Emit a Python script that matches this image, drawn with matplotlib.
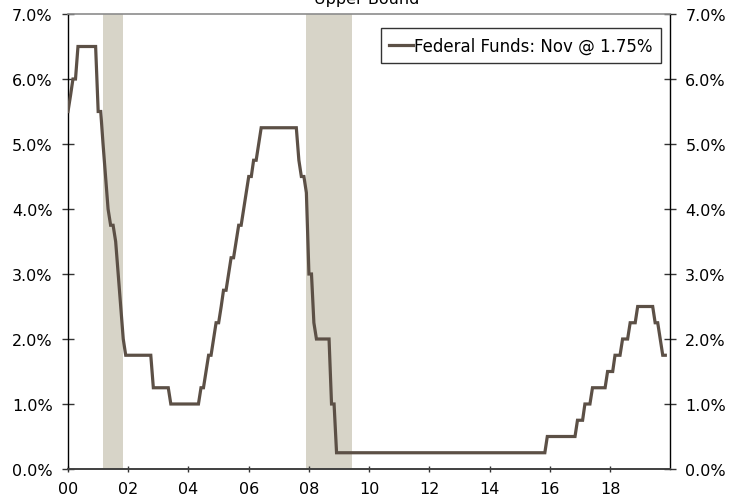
import matplotlib
matplotlib.use('Agg')
import matplotlib.pyplot as plt
import matplotlib.dates as mdates
import pandas as pd

# Federal funds target rate, upper bound, end of month (%)
fed_2000 = [5.5, 5.75, 6.0, 6.0, 6.5, 6.5, 6.5, 6.5, 6.5, 6.5, 6.5, 6.5]
fed_2001 = [5.5, 5.5, 5.0, 4.5, 4.0, 3.75, 3.75, 3.5, 3.0, 2.5, 2.0, 1.75]
fed_2002 = [1.75, 1.75, 1.75, 1.75, 1.75, 1.75, 1.75, 1.75, 1.75, 1.75, 1.25, 1.25]
fed_2003 = [1.25, 1.25, 1.25, 1.25, 1.25, 1.0, 1.0, 1.0, 1.0, 1.0, 1.0, 1.0]
fed_2004 = [1.0, 1.0, 1.0, 1.0, 1.0, 1.25, 1.25, 1.5, 1.75, 1.75, 2.0, 2.25]
fed_2005 = [2.25, 2.5, 2.75, 2.75, 3.0, 3.25, 3.25, 3.5, 3.75, 3.75, 4.0, 4.25]
fed_2006 = [4.5, 4.5, 4.75, 4.75, 5.0, 5.25, 5.25, 5.25, 5.25, 5.25, 5.25, 5.25]
fed_2007 = [5.25, 5.25, 5.25, 5.25, 5.25, 5.25, 5.25, 5.25, 4.75, 4.5, 4.5, 4.25]
fed_2008 = [3.0, 3.0, 2.25, 2.0, 2.0, 2.0, 2.0, 2.0, 2.0, 1.0, 1.0, 0.25]
fed_2009 = [0.25, 0.25, 0.25, 0.25, 0.25, 0.25, 0.25, 0.25, 0.25, 0.25, 0.25, 0.25]
fed_2010 = [0.25, 0.25, 0.25, 0.25, 0.25, 0.25, 0.25, 0.25, 0.25, 0.25, 0.25, 0.25]
fed_2011 = [0.25, 0.25, 0.25, 0.25, 0.25, 0.25, 0.25, 0.25, 0.25, 0.25, 0.25, 0.25]
fed_2012 = [0.25, 0.25, 0.25, 0.25, 0.25, 0.25, 0.25, 0.25, 0.25, 0.25, 0.25, 0.25]
fed_2013 = [0.25, 0.25, 0.25, 0.25, 0.25, 0.25, 0.25, 0.25, 0.25, 0.25, 0.25, 0.25]
fed_2014 = [0.25, 0.25, 0.25, 0.25, 0.25, 0.25, 0.25, 0.25, 0.25, 0.25, 0.25, 0.25]
fed_2015 = [0.25, 0.25, 0.25, 0.25, 0.25, 0.25, 0.25, 0.25, 0.25, 0.25, 0.25, 0.5]
fed_2016 = [0.5, 0.5, 0.5, 0.5, 0.5, 0.5, 0.5, 0.5, 0.5, 0.5, 0.5, 0.75]
fed_2017 = [0.75, 0.75, 1.0, 1.0, 1.0, 1.25, 1.25, 1.25, 1.25, 1.25, 1.25, 1.5]
fed_2018 = [1.5, 1.5, 1.75, 1.75, 1.75, 2.0, 2.0, 2.0, 2.25, 2.25, 2.25, 2.5]
fed_2019 = [2.5, 2.5, 2.5, 2.5, 2.5, 2.5, 2.25, 2.25, 2.0, 1.75, 1.75]

recessions = [('2001-03-01', '2001-11-01'), ('2007-12-01', '2009-06-01')]
y_ticks = [0, 1, 2, 3, 4, 5, 6, 7]

fed = (fed_2000 + fed_2001 + fed_2002 + fed_2003 + fed_2004 + fed_2005 + fed_2006
       + fed_2007 + fed_2008 + fed_2009 + fed_2010 + fed_2011 + fed_2012 + fed_2013
       + fed_2014 + fed_2015 + fed_2016 + fed_2017 + fed_2018 + fed_2019)
dates = pd.date_range('2000-01-01', periods=len(fed), freq='MS')

LINE = '#5C5046'
SHADE = '#D7D4C8'

plt.rcParams['font.family'] = 'DejaVu Sans'
fig = plt.figure(figsize=(7.3, 5.02), dpi=100)
ax = fig.add_axes([68 / 730, 1 - 470 / 502, 602 / 730, 455 / 502])

for start, end in recessions:
    ax.axvspan(pd.Timestamp(start), pd.Timestamp(end), color=SHADE, lw=0, zorder=0)

ax.plot(dates, fed, color=LINE, lw=2.3, solid_joinstyle='miter',
        label='Federal Funds: Nov @ 1.75%', zorder=3)

ax.set_xlim(pd.Timestamp('2000-01-01'), pd.Timestamp('2019-12-28'))
ax.set_ylim(0, 7)
ax.xaxis.set_major_locator(mdates.YearLocator(2))
ax.xaxis.set_major_formatter(mdates.DateFormatter('%y'))
ax.set_yticks(y_ticks)
ax.set_yticklabels(['%.1f%%' % v for v in y_ticks])

ax.tick_params(axis='x', direction='inout', length=5, width=1, color='#333333',
               labelsize=11.5, pad=6)
ax.tick_params(axis='y', direction='inout', length=8, width=1, color='#333333',
               labelsize=11.5, pad=7, right=True, labelright=True)

for side in ['left', 'right']:
    ax.spines[side].set_color('black')
    ax.spines[side].set_linewidth(1.0)
ax.spines['top'].set_color('#8C8C8C')
ax.spines['top'].set_linewidth(1.2)
ax.spines['bottom'].set_color('#404040')
ax.spines['bottom'].set_linewidth(1.4)

leg = ax.legend(loc='upper right', fontsize=12, frameon=True, fancybox=False,
                handlelength=1.4, handletextpad=0.1, borderpad=0.5, borderaxespad=0)
leg.get_frame().set_edgecolor('black')
leg.get_frame().set_linewidth(1.0)
leg.set_bbox_to_anchor((661 / 602 - 68 / 602, 1 - 14 / 455), transform=ax.transAxes)

fig.text(367 / 730, 1 - 4 / 502, 'Upper Bound', ha='center', va='baseline', fontsize=11.5)

fig.savefig('out.png', dpi=100, facecolor='white')
